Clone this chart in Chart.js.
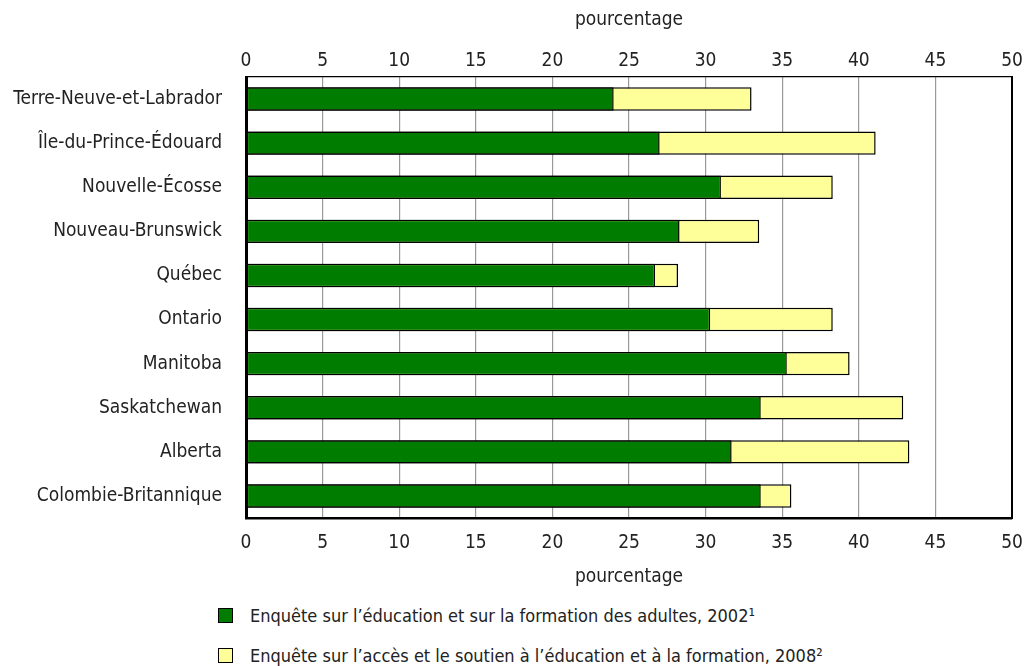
<!DOCTYPE html>
<html>
<head>
<meta charset="utf-8">
<script src="https://cdn.jsdelivr.net/npm/chart.js@4"></script>
<style>
  body { margin: 0; background: #fff; font-family: "DejaVu Sans Condensed", sans-serif; }
  #wrap { position: relative; width: 1027px; height: 666px; }
  #legend { position: absolute; left: 218px; top: 604px; font-size: 18px; color: #222; }
  .leg-item { display: flex; align-items: center; height: 22px; margin-bottom: 18px; }
  .leg-box { width: 13px; height: 13px; border: 1.5px solid #000; margin-right: 17px; }
</style>
</head>
<body>
<div id="wrap">
  <canvas id="chart" width="1027" height="600"></canvas>
  <div id="legend"></div>
</div>
<script>
// ─── DATA ────────────────────────────────────────────────────────────────
const provinces = [
  'Terre-Neuve-et-Labrador', 'Île-du-Prince-Édouard', 'Nouvelle-Écosse', 'Nouveau-Brunswick',
  'Québec', 'Ontario', 'Manitoba', 'Saskatchewan', 'Alberta', 'Colombie-Britannique'
];
const aets2002 = [24.0, 27.0, 31.0, 28.3, 26.7, 30.3, 35.3, 33.6, 31.7, 33.6];
const asets2008 = [33.0, 41.1, 38.3, 33.5, 28.2, 38.3, 39.4, 42.9, 43.3, 35.6];
const seriesLabels = [
  'Enquête sur l’éducation et sur la formation des adultes, 2002¹',
  'Enquête sur l’accès et le soutien à l’éducation et à la formation, 2008²'
];
const axisTitle = 'pourcentage';

const FONT = '"DejaVu Sans Condensed", sans-serif';
const COLORS = ['#007d00', '#ffff99'];

Chart.defaults.font.family = FONT;
Chart.defaults.font.size = 19;
Chart.defaults.color = '#222';

// x axes: keep the plot area exactly where the labels would otherwise push it
const noPad = s => { s.paddingLeft = 0; s.paddingRight = 0; };

new Chart(document.getElementById('chart'), {
  type: 'bar',
  data: {
    labels: provinces,
    datasets: [
      { label: seriesLabels[0], data: aets2002, backgroundColor: COLORS[0], borderColor: '#000', borderWidth: 1.5, borderSkipped: false, barPercentage: 0.53, categoryPercentage: 1 },
      { label: seriesLabels[1], data: asets2008, backgroundColor: COLORS[1], borderColor: '#000', borderWidth: 1.5, borderSkipped: false, barPercentage: 0.53, categoryPercentage: 1 }
    ]
  },
  options: {
    indexAxis: 'y',
    responsive: false,
    animation: false,
    layout: { padding: 0 },
    plugins: { legend: { display: false }, tooltip: { enabled: false } },
    scales: {
      x: {
        position: 'bottom', min: 0, max: 50,
        ticks: { stepSize: 5, padding: 14 },
        grid: { color: '#999', lineWidth: 1.2, drawTicks: false },
        border: { color: '#000', width: 2.5 },
        title: { display: true, text: axisTitle, padding: { top: 4, bottom: 12 } },
        afterFit: s => { noPad(s); s.height = 82; }
      },
      x2: {
        position: 'top', min: 0, max: 50,
        ticks: { stepSize: 5, padding: 5 },
        grid: { display: false, drawTicks: false },
        border: { color: '#000', width: 1.2 },
        title: { display: true, text: axisTitle, padding: { top: 9, bottom: 0 } },
        afterFit: s => { noPad(s); s.height = 77; }
      },
      y: {
        stacked: true,
        ticks: { padding: 24 },
        grid: { display: false, drawTicks: false },
        border: { color: '#000', width: 3 },
        afterFit: s => { s.width = 246; }
      },
      y2: {
        type: 'linear', position: 'right',
        ticks: { display: false },
        grid: { display: false, drawTicks: false },
        border: { color: '#000', width: 2 },
        afterFit: s => { s.width = 15; }
      }
    }
  }
});

document.getElementById('legend').innerHTML = seriesLabels.map((t, i) => `
  <div class="leg-item"><span class="leg-box" style="background:${COLORS[i]}"></span>${t}</div>`).join('');
</script>
</body>
</html>
